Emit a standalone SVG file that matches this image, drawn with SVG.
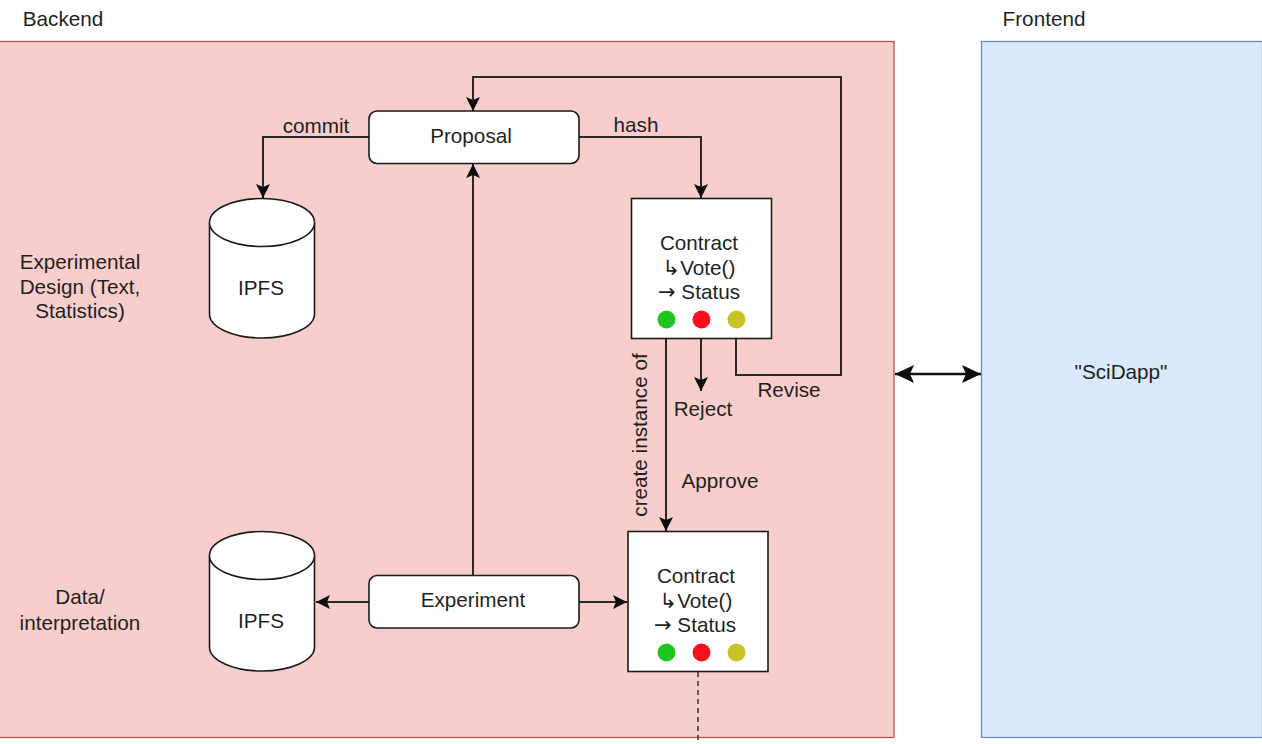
<svg xmlns="http://www.w3.org/2000/svg" width="1262" height="744" viewBox="0 0 1262 744">
<style>
text{font-family:"Liberation Sans",Arial,sans-serif;font-size:20.7px;fill:#1f1f1f;text-anchor:middle}
.ar{font-family:"DejaVu Sans",sans-serif;font-size:21px}
.sh{fill:#fff;stroke:#1a1a1a;stroke-width:1.6}
.c{fill:none;stroke:#2a2a2a;stroke-width:2}
.g{fill:#1ec51e}.r{fill:#fb0f1e}.y{fill:#cbc326}
</style>
<defs>
<marker id="a" markerUnits="userSpaceOnUse" markerWidth="15" markerHeight="15" refX="14" refY="7.500" orient="auto-start-reverse" viewBox="0 0 15 15"><path d="M0 0.500 L14 7.500 L0 14.500 L3 7.500 Z" fill="#0d0d0d"/></marker>
<marker id="b" markerUnits="userSpaceOnUse" markerWidth="20" markerHeight="20" refX="19" refY="10" orient="auto-start-reverse" viewBox="0 0 20 20"><path d="M0 1 L19 10 L0 19 L4 10 Z" fill="#0d0d0d"/></marker>
</defs>
<rect width="1262" height="744" fill="#fff"/>
<g id="backend"><rect x="-1" y="41.500" width="895" height="696" fill="#f8cecc" stroke="#b85450" stroke-width="1.300"/><text x="63" y="26">Backend</text></g>
<g id="frontend"><rect x="981.500" y="41.500" width="281" height="696" fill="#dae8fc" stroke="#6c8ebf" stroke-width="1.300"/><text x="1044" y="26">Frontend</text><text x="1121" y="379">"SciDapp"</text></g>
<g id="connectors">
<path class="c" d="M369 137H263V198" marker-end="url(#a)"/>
<path class="c" d="M579 137H701V198" marker-end="url(#a)"/>
<path class="c" d="M736 339V375H841V77H473V111" marker-end="url(#a)"/>
<path class="c" d="M701 339V391" marker-end="url(#a)"/>
<path class="c" d="M666 339V531" marker-end="url(#a)"/>
<path class="c" d="M473 575V164" marker-end="url(#a)"/>
<path class="c" d="M369 602H316" marker-end="url(#a)"/>
<path class="c" d="M579 602H627" marker-end="url(#a)"/>
<path d="M698 672V741" fill="none" stroke="#333" stroke-width="1.500" stroke-dasharray="5 4"/>
<path d="M895 374H981" fill="none" stroke="#111" stroke-width="2.600" marker-start="url(#b)" marker-end="url(#b)"/>
<text x="316" y="133">commit</text>
<text x="636" y="132">hash</text>
<text x="703" y="416">Reject</text>
<text x="789" y="397">Revise</text>
<text x="720" y="488">Approve</text>
<text transform="translate(647 435) rotate(-90)">create instance of</text>
</g>
<g id="proposal"><rect class="sh" x="369" y="111" width="210" height="52.500" rx="8"/><text x="471" y="143">Proposal</text></g>
<g id="experiment"><rect class="sh" x="369" y="575.500" width="210" height="52.500" rx="8"/><text x="473" y="607">Experiment</text></g>
<g id="ipfs1"><path class="sh" d="M209.500 222.500A52.500 24 0 0 1 314.500 222.500V314A52.500 24 0 0 1 209.500 314Z"/><path class="sh" fill="none" d="M209.500 222.500A52.500 24 0 0 0 314.500 222.500"/><text x="261" y="295">IPFS</text></g>
<g id="ipfs2"><path class="sh" d="M209.500 555.500A52.500 24 0 0 1 314.500 555.500V647A52.500 24 0 0 1 209.500 647Z"/><path class="sh" fill="none" d="M209.500 555.500A52.500 24 0 0 0 314.500 555.500"/><text x="261" y="628">IPFS</text></g>
<g id="contract1"><rect class="sh" x="631.500" y="198.500" width="140" height="140"/>
<text x="699" y="250">Contract</text><text x="699" y="274.500"><tspan class="ar">↳</tspan>Vote()</text><text x="699" y="299"><tspan class="ar">→</tspan> Status</text>
<circle class="g" cx="666.500" cy="319.500" r="9"/><circle class="r" cx="701.500" cy="319.500" r="9"/><circle class="y" cx="736.500" cy="319.500" r="9"/></g>
<g id="contract2"><rect class="sh" x="628" y="531.500" width="140" height="140"/>
<text x="696" y="583">Contract</text><text x="696" y="607.500"><tspan class="ar">↳</tspan>Vote()</text><text x="695" y="632"><tspan class="ar">→</tspan> Status</text>
<circle class="g" cx="666.500" cy="652.500" r="9"/><circle class="r" cx="701.500" cy="652.500" r="9"/><circle class="y" cx="736.500" cy="652.500" r="9"/></g>
<g id="label-design"><text x="80" y="269">Experimental</text><text x="80" y="294">Design (Text,</text><text x="80" y="318">Statistics)</text></g>
<g id="label-data"><text x="80" y="604">Data/</text><text x="80" y="630">interpretation</text></g>
</svg>
